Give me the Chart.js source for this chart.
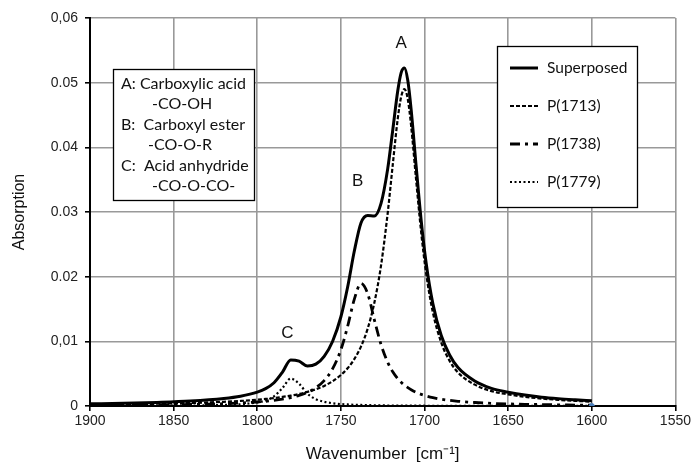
<!DOCTYPE html>
<html lang="en">
<head>
    <meta charset="UTF-8">
    <title>Absorption spectrum</title>
    <script src="https://cdn.jsdelivr.net/npm/chart.js@4.4.1/dist/chart.umd.min.js"></script>
    <style>
        html, body { margin: 0; padding: 0; background: #fff; }
    </style>
</head>
<body>
    <canvas id="myChart" width="693" height="466"></canvas>

    <script>
        // wavenumber samples (cm-1)
        const wavenumbers = [1900, 1880, 1860, 1840, 1820, 1810, 1800, 1795, 1790, 1785,
            1780, 1775, 1770, 1765, 1760, 1755, 1750, 1746, 1742, 1738,
            1734, 1730, 1726, 1722, 1719, 1716, 1714, 1712, 1710, 1708,
            1705, 1702, 1699, 1695, 1690, 1685, 1680, 1670, 1660, 1650,
            1640, 1630, 1620, 1610, 1600];

        const superposed = [0.00033, 0.00042, 0.00056, 0.00077, 0.00117, 0.00152, 0.00214, 0.00268, 0.00359, 0.0052,
            0.00713, 0.00693, 0.00619, 0.00647, 0.00769, 0.00998, 0.0138, 0.01836, 0.02392, 0.02831,
            0.02947, 0.0294, 0.03134, 0.03671, 0.04267, 0.04875, 0.05152, 0.05227, 0.05032, 0.04584,
            0.03704, 0.02868, 0.02204, 0.0158, 0.01089, 0.00788, 0.00594, 0.00386, 0.00273, 0.00214,
            0.00169, 0.00137, 0.00114, 0.00096, 0.0008];

        const p1713 = [0.00022, 0.00027, 0.00035, 0.00046, 0.00065, 0.00078, 0.00097, 0.00109, 0.00123, 0.0014,
            0.0016, 0.00186, 0.00218, 0.00258, 0.00311, 0.00382, 0.00479, 0.00583, 0.00725, 0.00919,
            0.01195, 0.01596, 0.02174, 0.02988, 0.0373, 0.04445, 0.04778, 0.049, 0.04743, 0.04328,
            0.03488, 0.02683, 0.02044, 0.01446, 0.0098, 0.00698, 0.00518, 0.0033, 0.0023, 0.0018,
            0.00142, 0.00115, 0.00095, 0.0008, 0.00066];

        const p1738 = [0.00009, 0.00012, 0.00017, 0.00024, 0.00036, 0.00047, 0.00062, 0.00073, 0.00087, 0.00105,
            0.0013, 0.00163, 0.00211, 0.00283, 0.00393, 0.00573, 0.00871, 0.01229, 0.01648, 0.01896,
            0.01739, 0.01333, 0.0095, 0.00675, 0.0053, 0.00423, 0.00367, 0.00321, 0.00283, 0.00251,
            0.00211, 0.0018, 0.00156, 0.0013, 0.00105, 0.00087, 0.00073, 0.00054, 0.00041, 0.00032,
            0.00026, 0.00022, 0.00018, 0.00015, 0.00013];

        const p1779 = [0.00002, 0.00003, 0.00004, 0.00007, 0.00016, 0.00027, 0.00055, 0.00086, 0.00149, 0.00275,
            0.00423, 0.00344, 0.0019, 0.00106, 0.00065, 0.00043, 0.0003, 0.00024, 0.00019, 0.00016,
            0.00013, 0.00011, 0.0001, 0.00008, 0.00008, 0.00007, 0.00006, 0.00006, 0.00006, 0.00005,
            0.00005, 0.00005, 0.00004, 0.00004, 0.00004, 0.00003, 0.00003, 0.00002, 0.00002, 0.00001,
            0.00001, 0.00001, 0.00001, 0.00001, 0.00001];

        // stray blue marker at the end of the trace
        const markerX = [1600];
        const markerY = [0];

        const yTickLabels = ['0', '0,01', '0.02', '0.03', '0.04', '0.05', '0,06'];
        const legendLabels = ['Superposed', 'P(1713)', 'P(1738)', 'P(1779)'];
        const noteLines = ['A: Carboxylic acid', '-CO-OH', 'B:  Carboxyl ester', '-CO-O-R', 'C:  Acid anhydride', '-CO-O-CO-'];
        const peakNames = ['A', 'B', 'C'];
        const peakX = [1714, 1740, 1782];
        const peakY = [0.0561, 0.0348, 0.0113];

        const dashes = [[], [4, 2], [10, 5, 3, 5], [2, 2.5]];
        const widths = [3, 2.2, 2.8, 2.2];

        function pts(ys) {
            return wavenumbers.map((w, i) => ({ x: w, y: ys[i] }));
        }

        function lineSet(label, ys, i) {
            return {
                label: label,
                data: pts(ys),
                borderColor: '#000',
                borderWidth: widths[i],
                borderDash: dashes[i],
                pointRadius: 0,
                fill: false,
                cubicInterpolationMode: 'monotone',
                order: 4 - i
            };
        }

        // legend box, note box, peak letters
        const notesPlugin = {
            id: 'notes',
            afterDatasetsDraw(chart) {
                const ctx = chart.ctx;
                const xs = chart.scales.x, ys = chart.scales.y;
                ctx.save();

                // group note box
                ctx.fillStyle = '#fff';
                ctx.fillRect(113, 69, 141, 131);
                ctx.strokeStyle = '#000';
                ctx.lineWidth = 1.3;
                ctx.strokeRect(113.5, 69.5, 141, 131);
                ctx.fillStyle = '#111';
                ctx.font = '16px Lato';
                ctx.textBaseline = 'middle';
                const noteX = [121, 152, 121, 148, 121, 152];
                const noteY = [84, 104, 125, 145, 166, 186];
                noteLines.forEach((t, i) => ctx.fillText(t, noteX[i], noteY[i]));

                // legend box
                ctx.fillStyle = '#fff';
                ctx.fillRect(497, 46, 140, 161);
                ctx.strokeRect(497.5, 46.5, 140, 161);
                const rowY = [68, 106, 144, 182];
                legendLabels.forEach((t, i) => {
                    ctx.beginPath();
                    ctx.setLineDash(dashes[i]);
                    ctx.lineWidth = widths[i];
                    ctx.strokeStyle = '#000';
                    ctx.moveTo(510, rowY[i]);
                    ctx.lineTo(538, rowY[i]);
                    ctx.stroke();
                    ctx.setLineDash([]);
                    ctx.fillStyle = '#111';
                    ctx.font = '15.5px Lato';
                    ctx.fillText(t, 547, rowY[i]);
                });

                // peak letters
                ctx.font = '17px "Liberation Sans"';
                ctx.textAlign = 'center';
                ctx.fillStyle = '#111';
                peakNames.forEach((t, i) => {
                    ctx.fillText(t, xs.getPixelForValue(peakX[i]), ys.getPixelForValue(peakY[i]));
                });
                ctx.restore();
            }
        };

        const ctx1 = document.getElementById('myChart').getContext('2d');
        const myChart = new Chart(ctx1, {
            type: 'line',
            data: {
                datasets: [
                    lineSet(legendLabels[0], superposed, 0),
                    lineSet(legendLabels[1], p1713, 1),
                    lineSet(legendLabels[2], p1738, 2),
                    lineSet(legendLabels[3], p1779, 3),
                    {
                        label: 'marker',
                        data: markerX.map((x, i) => ({ x: x, y: markerY[i] })),
                        showLine: false,
                        pointRadius: 2.5,
                        pointBackgroundColor: '#4a7ebb',
                        pointBorderColor: '#4a7ebb',
                        order: 0
                    }
                ]
            },
            options: {
                responsive: false,
                animation: false,
                devicePixelRatio: 1,
                layout: { padding: { left: 0, right: 17, top: 18, bottom: 0 } },
                plugins: {
                    legend: { display: false },
                    tooltip: { enabled: false }
                },
                scales: {
                    x: {
                        type: 'linear',
                        reverse: true,
                        min: 1550,
                        max: 1900,
                        afterFit: s => { s.height = 60; },
                        ticks: {
                            stepSize: 50,
                            color: '#222',
                            font: { family: 'Liberation Sans', size: 14 },
                            padding: 2,
                            maxRotation: 0,
                            callback: v => String(v)
                        },
                        grid: { color: '#999', lineWidth: 1.6, tickLength: 5, tickColor: '#000' },
                        border: { color: '#000', width: 2 },
                        title: {
                            display: true,
                            text: 'Wavenumber  [cm\u207B\u00B9]',
                            color: '#111',
                            font: { family: 'Liberation Sans', size: 17 },
                            padding: { top: 0, bottom: 1 }
                        }
                    },
                    y: {
                        min: 0,
                        max: 0.06,
                        afterFit: s => { s.width = 90; },
                        ticks: {
                            stepSize: 0.01,
                            color: '#222',
                            font: { family: 'Liberation Sans', size: 14 },
                            padding: 7,
                            callback: (v, i) => yTickLabels[i]
                        },
                        grid: { color: '#999', lineWidth: 1.6, tickLength: 5, tickColor: '#000' },
                        border: { color: '#000', width: 2 },
                        title: {
                            display: true,
                            text: 'Absorption',
                            color: '#111',
                            font: { family: 'Liberation Sans', size: 16 },
                            padding: { top: 10, bottom: 0 }
                        }
                    }
                }
            },
            plugins: [notesPlugin]
        });
    </script>
</body>
</html>
